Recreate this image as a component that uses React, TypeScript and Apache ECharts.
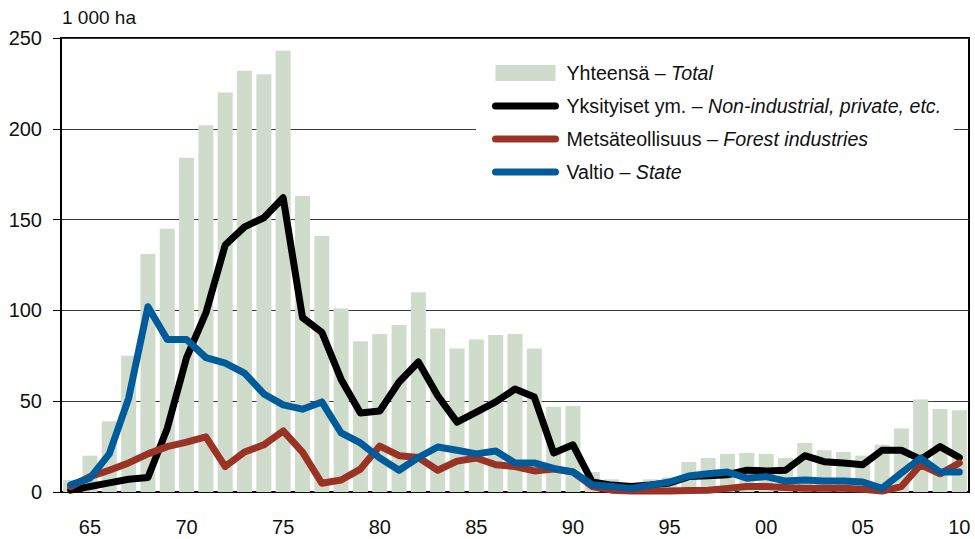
import React, { useEffect, useRef } from "react";
import * as echarts from "echarts";

const years: string[] = [];
for (let y = 1964; y <= 2010; y++) years.push(String(y));

const total = [
  6.6, 20, 39, 75, 131, 145, 184, 202, 220, 232,
  230, 243, 163, 141, 101, 83, 87, 92, 110, 90,
  79, 84, 86.5, 87, 79, 47, 47.4, 11, 7, 5,
  7, 8, 16.5, 18.7, 21, 21.5, 21, 18.7, 27, 23,
  22, 20, 26, 35, 51, 45.7, 45,
];
const privateOwners = [
  1, 3, 5, 7, 8, 35, 74, 98.6, 136, 146,
  151, 162, 96, 88, 62, 43.5, 44.6, 60.6, 71.6, 53,
  38.5, 44, 49.6, 56.7, 52.3, 21.5, 26, 5.5, 3.8, 3,
  3.8, 5, 8.5, 9, 9.5, 12, 11.6, 12, 20, 16.7,
  16, 15, 23, 23, 18, 25, 19,
];
const forestIndustries = [
  3, 8.5, 12, 16, 21, 25, 27.5, 30.4, 14, 22,
  26, 33.6, 22, 4.8, 6.6, 12.6, 25.3, 20, 19, 12,
  17, 18.7, 15, 14, 11.6, 12.6, 11, 3, 1, 0.5,
  0.5, 0.5, 0.8, 1, 2, 3, 3, 2.5, 2, 2,
  2, 1.5, 0.5, 3, 15, 10, 16,
];
const state = [
  4, 7.6, 21, 51.6, 102, 84, 84, 74, 71, 65.5,
  54, 48, 45.6, 49.6, 32.5, 27, 18.7, 12, 19, 24.8,
  23, 21, 22.6, 16, 16, 13, 11, 4, 3, 2,
  3.8, 5.5, 8.8, 10, 11, 7.6, 8.5, 6, 6.6, 6,
  6, 5.5, 2, 10.4, 18.7, 11, 11,
];

const names = [
  "Yhteensä – Total",
  "Yksityiset ym. – Non-industrial, private, etc.",
  "Metsäteollisuus – Forest industries",
  "Valtio – State",
];
const legendRich: Record<string, string> = {
  [names[0]]: "{n|Yhteensä – }{i|Total}",
  [names[1]]: "{n|Yksityiset ym. – }{i|Non-industrial, private, etc.}",
  [names[2]]: "{n|Metsäteollisuus – }{i|Forest industries}",
  [names[3]]: "{n|Valtio – }{i|State}",
};

const FONT = "'Liberation Sans', Arial, Helvetica, sans-serif";
const LINE_W = 7;

export default function App() {
  const ref = useRef<HTMLDivElement>(null);
  useEffect(() => {
    if (!ref.current) return;
    const chart = echarts.init(ref.current, undefined, { renderer: "svg" });
    const lineSeries = (name: string, data: number[], color: string) => ({
      name,
      type: "line",
      data,
      symbol: "none",
      lineStyle: { color, width: LINE_W, join: "round", cap: "round" },
      itemStyle: { color },
    });
    const hiddenSymbol = { color: "rgba(0,0,0,0)", borderWidth: 0, opacity: 0 };
    chart.setOption({
      animation: false,
      textStyle: { fontFamily: FONT },
      grid: {
        left: 61,
        right: 6,
        top: 38,
        bottom: 47,
        show: true,
        borderColor: "#000",
        borderWidth: 2,
        backgroundColor: "transparent",
      },
      graphic: [
        {
          type: "text",
          left: 62,
          top: 8,
          style: { text: "1 000 ha", fontSize: 19, fontFamily: FONT, fill: "#111" },
        },
      ],
      legend: {
        orient: "vertical",
        left: 476,
        top: 40,
        padding: [23, 13, 37, 16],
        backgroundColor: "#fff",
        itemGap: 13,
        itemWidth: 60,
        itemHeight: 16,
        data: [
          { name: names[0], icon: "rect" },
          { name: names[1], itemStyle: hiddenSymbol, lineStyle: { width: LINE_W, cap: "round" } },
          { name: names[2], itemStyle: hiddenSymbol, lineStyle: { width: LINE_W, cap: "round" } },
          { name: names[3], itemStyle: hiddenSymbol, lineStyle: { width: LINE_W, cap: "round" } },
        ],
        formatter: (n: string) => legendRich[n],
        textStyle: {
          fontSize: 19.6,
          lineHeight: 20,
          color: "#111",
          padding: [0, 0, 0, 6],
          rich: {
            n: { fontSize: 19.6, fontFamily: FONT, color: "#111" },
            i: { fontSize: 19.6, fontFamily: FONT, fontStyle: "italic", color: "#111" },
          },
        },
      },
      xAxis: {
        type: "category",
        data: years,
        boundaryGap: true,
        axisLine: { lineStyle: { color: "#000", width: 1.5 } },
        axisTick: {
          alignWithLabel: true,
          interval: 0,
          length: 7,
          lineStyle: { color: "#000", width: 1 },
        },
        axisLabel: {
          interval: (i: number, v: string) => Number(v) % 5 === 0,
          formatter: (v: string) => v.slice(2),
          fontSize: 20,
          color: "#111",
          margin: 25,
          fontFamily: FONT,
        },
        splitLine: { show: false },
      },
      yAxis: {
        type: "value",
        min: 0,
        max: 250,
        interval: 50,
        axisLine: { show: true, lineStyle: { color: "#000", width: 2 } },
        axisTick: { show: true, length: 8, lineStyle: { color: "#000", width: 1 } },
        axisLabel: { fontSize: 20, color: "#111", margin: 19, fontFamily: FONT },
        splitLine: { show: true, lineStyle: { color: "#3a3a3a", width: 1 } },
      },
      series: [
        {
          name: names[0],
          type: "bar",
          data: total,
          barWidth: 15,
          itemStyle: { color: "#d0dccb" },
        },
        lineSeries(names[1], privateOwners, "#000000"),
        lineSeries(names[2], forestIndustries, "#9b3226"),
        lineSeries(names[3], state, "#005b9b"),
      ],
    });
    return () => chart.dispose();
  }, []);
  return (
    <div
      ref={ref}
      style={{ position: "absolute", left: 0, top: 0, width: 975, height: 539, background: "#fff" }}
    />
  );
}
